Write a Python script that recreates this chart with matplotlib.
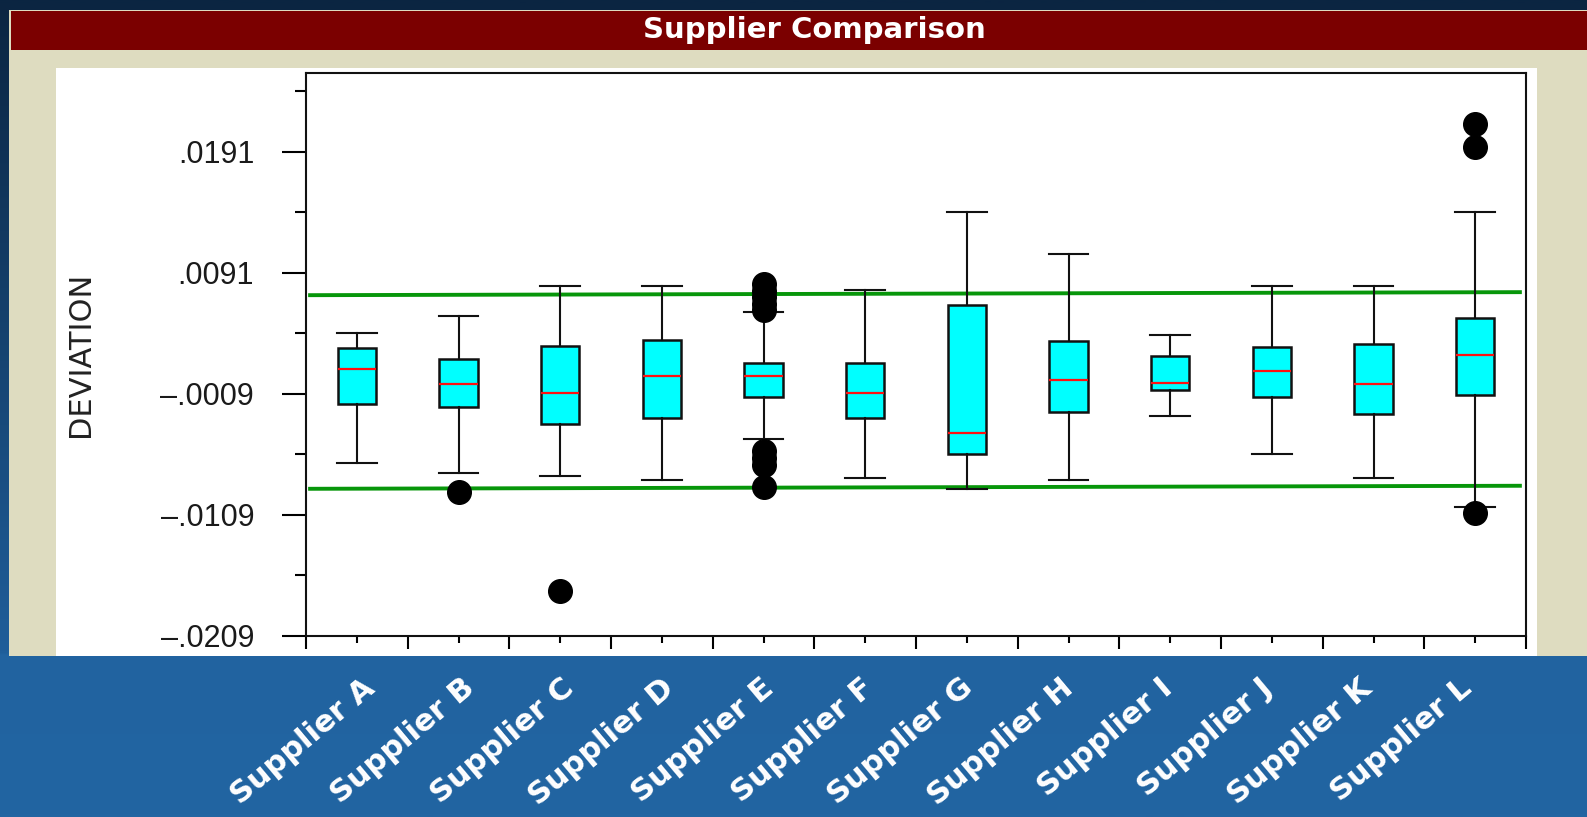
#Box plot of supplier deviations, drawn on a slide-like background
import numpy as np
import matplotlib.pyplot as plt
from matplotlib.patches import Rectangle
from matplotlib.colors import LinearSegmentedColormap
import matplotlib.transforms as mtransforms

#Data
suppliers = ['Supplier A', 'Supplier B', 'Supplier C', 'Supplier D', 'Supplier E', 'Supplier F',
             'Supplier G', 'Supplier H', 'Supplier I', 'Supplier J', 'Supplier K', 'Supplier L']
whisker_hi = [0.00414, 0.00552, 0.00803, 0.00803, 0.00588, 0.00767, 0.01414, 0.01062, 0.00395, 0.00803, 0.00803, 0.01414]
q3 = [0.00288, 0.00199, 0.00304, 0.00356, 0.00166, 0.00161, 0.00641, 0.00346, 0.00222, 0.00293, 0.00323, 0.00533]
median = [0.00114, -0.00010, -0.00082, 0.00059, 0.00059, -0.00082, -0.00415, 0.00026, 0.00001, 0.00098, -0.00010, 0.00230]
q1 = [-0.00173, -0.00200, -0.00340, -0.00291, -0.00115, -0.00293, -0.00588, -0.00244, -0.00062, -0.00115, -0.00258, -0.00098]
whisker_lo = [-0.00660, -0.00745, -0.00770, -0.00803, -0.00467, -0.00789, -0.00880, -0.00803, -0.00272, -0.00591, -0.00787, -0.01029]
outliers = [[], [-0.00902], [-0.01718], [],
            [0.0082, 0.0076, 0.0071, 0.0065, 0.0060, -0.00564, -0.00622, -0.0068, -0.00865],
            [], [], [], [], [], [], [0.02139, 0.01951, -0.01078]]

#Spec limit lines (value at left end, value at right end)
limit_x = [0.04, 11.94]
upper_limit = [0.00724, 0.00749]
lower_limit = [-0.00876, -0.00851]

#Axis ticks
ytick_vals = [0.0191, 0.0091, -0.0009, -0.0109, -0.0209]
ytick_labels = ['.0191', '.0091', '\u2013.0009', '\u2013.0109', '\u2013.0209']
yminor_vals = [0.0241, 0.0141, 0.0041, -0.0059, -0.0159]

W, H = 1587, 817
fig = plt.figure(figsize=(W / 100, H / 100), dpi=100)

#Background: vertical gradient, dark navy at top to blue at the bottom band
bg = fig.add_axes([0, 0, 1, 1])
cmap = LinearSegmentedColormap.from_list('slide', [(0, '#2265a2'), (0.197, '#2163a0'), (0.2, '#1f5e9a'), (1, '#0b2541')])
bg.imshow(np.linspace(0, 1, 400).reshape(-1, 1), aspect='auto', cmap=cmap, origin='lower', extent=[0, 1, 0, 1])
bg.set_xlim(0, 1)
bg.set_ylim(0, 1)
bg.axis('off')

def px_rect(x0, y0, x1, y1, color):
    #rectangle given in pixel coords measured from the top-left corner
    bg.add_patch(Rectangle((x0 / W, 1 - y1 / H), (x1 - x0) / W, (y1 - y0) / H, color=color, lw=0))

px_rect(9, 9.5, W, 656, '#dedcc0')   #beige panel
px_rect(11, 11, W, 50, '#7b0000')    #title bar
px_rect(56, 68, 1537, 656, 'white')  #plot panel

fig.text(814 / W, 1 - 30 / H, 'Supplier Comparison', color='white', fontsize=21,
         fontweight='bold', ha='center', va='center')
fig.text(80 / W, 1 - 354 / H, 'DEVIATION', color='#222222', fontsize=22,
         rotation=90, ha='center', va='center')

#Main plot axes
ax = fig.add_axes([306 / W, 1 - 635.7 / H, (1526 - 306) / W, (635.7 - 73) / H])
ax.set_facecolor('white')

stats = []
for i in range(len(suppliers)):
    stats.append(dict(med=median[i], q1=q1[i], q3=q3[i], whislo=whisker_lo[i],
                      whishi=whisker_hi[i], fliers=outliers[i], label=suppliers[i]))

positions = np.arange(len(suppliers)) + 0.5
ax.bxp(stats, positions=positions, widths=0.375, capwidths=0.39, patch_artist=True,
       boxprops=dict(facecolor='#00ffff', edgecolor='#111111', linewidth=1.8),
       medianprops=dict(color='#ff1010', linewidth=1.6),
       whiskerprops=dict(color='#111111', linewidth=1.5),
       capprops=dict(color='#111111', linewidth=1.5),
       flierprops=dict(marker='o', markerfacecolor='black', markeredgecolor='black', markersize=17),
       manage_ticks=False)

ax.plot(limit_x, upper_limit, color='#07960a', linewidth=2.8, zorder=1)
ax.plot(limit_x, lower_limit, color='#07960a', linewidth=2.8, zorder=1)

ax.set_xlim(0, 12)
ax.set_ylim(-0.0209, 0.0256)

ax.set_yticks(ytick_vals)
ax.set_yticklabels(ytick_labels, family=['Liberation Sans', 'DejaVu Sans'], color='#1a1a1a')
ax.set_yticks(yminor_vals, minor=True)
ax.tick_params(axis='y', which='major', length=17.3, width=1.5, pad=20, labelsize=22)
ax.tick_params(axis='y', which='minor', length=8, width=1.5)

ax.set_xticks(np.arange(0, 13))
ax.set_xticks(positions, minor=True)
ax.tick_params(axis='x', which='major', length=9.4, width=1.5, labelbottom=False)
ax.tick_params(axis='x', which='minor', length=5, width=1.5)

for s in ax.spines.values():
    s.set_linewidth(1.5)
    s.set_color('#111111')

#Rotated supplier names in the blue band (evenly spaced overlay)
trans = mtransforms.blended_transform_factory(ax.transAxes, fig.transFigure)
label_x = np.linspace((371 - 306) / 1220, (1468 - 306) / 1220, len(suppliers))
for xi, name in zip(label_x, suppliers):
    ax.text(xi, 1 - 684 / H, name, transform=trans, rotation=40, rotation_mode='anchor',
            ha='right', va='center', color='white', fontsize=22, fontweight='bold', clip_on=False)

fig.savefig('out.png', dpi=100)
